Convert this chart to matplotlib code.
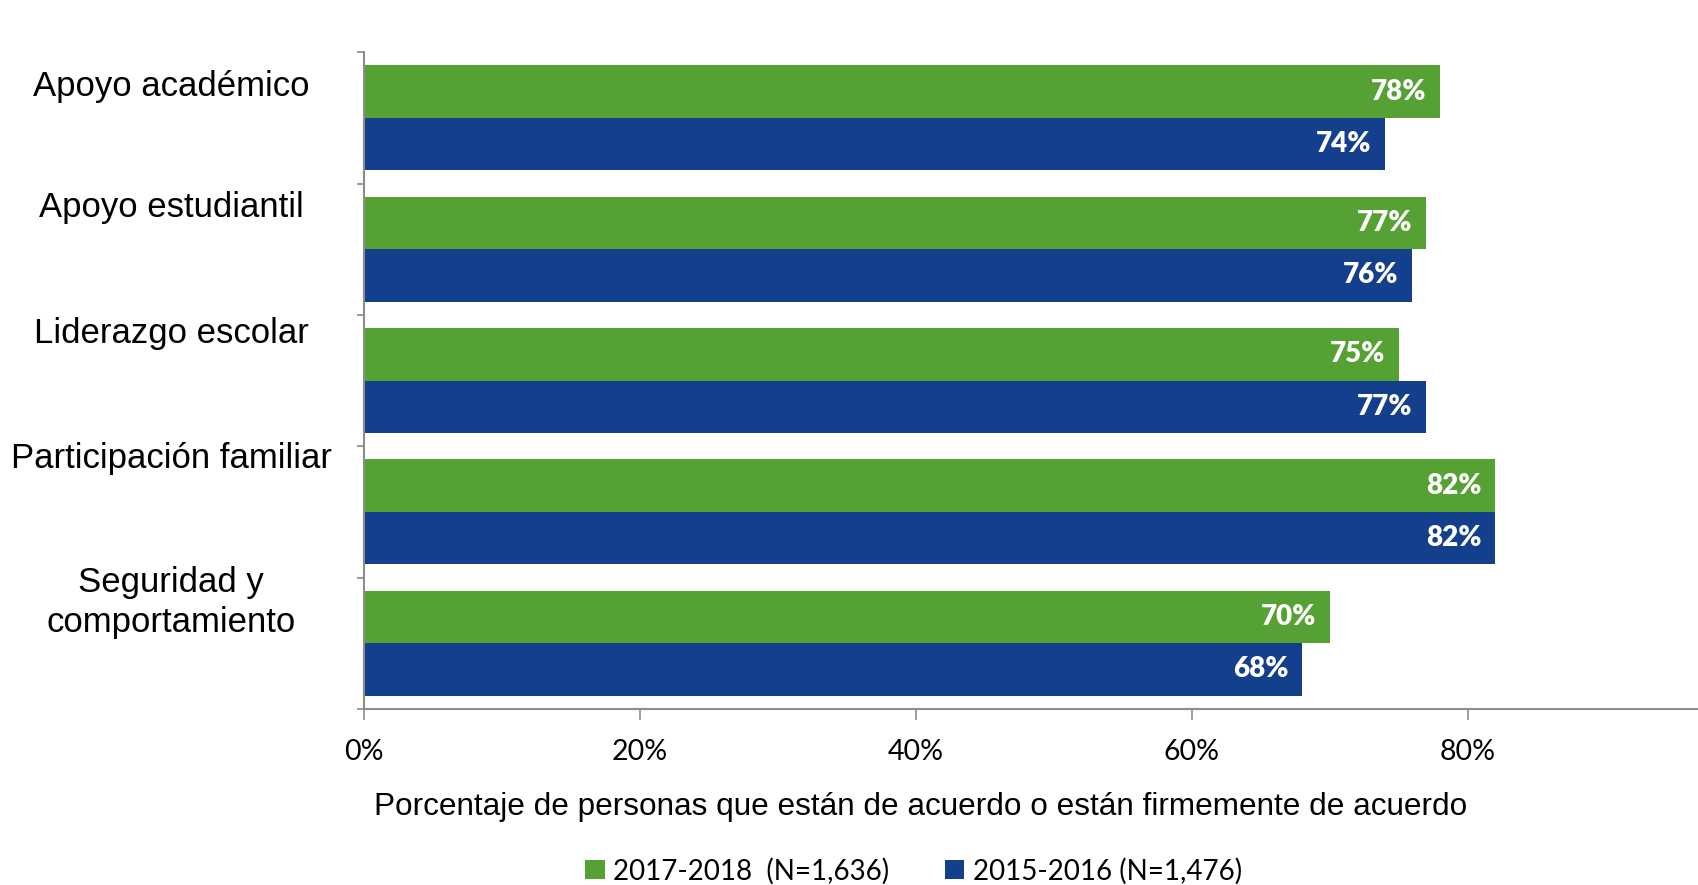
import matplotlib.pyplot as plt
import numpy as np

categories = ["Apoyo académico", "Apoyo estudiantil", "Liderazgo escolar",
              "Participación familiar", "Seguridad y\ncomportamiento"]
vals_2017 = [78, 77, 75, 82, 70]
vals_2015 = [74, 76, 77, 82, 68]
series_labels = ["2017-2018  (N=1,636)", "2015-2016 (N=1,476)"]
xticks = [0, 20, 40, 60, 80]

green = "#55a133"
blue = "#143f8c"
axis_gray = "#8c8c8c"

fig = plt.figure(figsize=(16.98, 8.85), dpi=100)
ax = fig.add_axes([0.2144, 0.199, 0.7856, 0.742])

pos = np.arange(len(categories))
h = 0.4
bars_g = ax.barh(pos - h / 2, vals_2017, h, color=green, label=series_labels[0])
bars_b = ax.barh(pos + h / 2, vals_2015, h, color=blue, label=series_labels[1])

# value labels inside the bar ends
for bars, vals in [(bars_g, vals_2017), (bars_b, vals_2015)]:
    for b, v in zip(bars, vals):
        ax.text(v - 1.0, b.get_y() + b.get_height() / 2, f"{v}%",
                ha="right", va="center", color="white", fontsize=20,
                fontweight="heavy", family="Lato")

ax.set_xlim(0, 96.7)
ax.set_ylim(len(categories) - 0.5, -0.5)

ax.set_xticks(xticks)
ax.set_xticklabels([f"{t}%" for t in xticks], fontsize=20.5, family="Lato")
ax.tick_params(axis="x", length=8, width=1.2, color=axis_gray, pad=14)
ax.set_yticks(np.arange(len(categories) + 1) - 0.5)
ax.set_yticklabels([])
ax.tick_params(axis="y", length=5, width=1.2, color=axis_gray)

for s in ["top", "right"]:
    ax.spines[s].set_visible(False)
for s in ["left", "bottom"]:
    ax.spines[s].set_color(axis_gray)
    ax.spines[s].set_linewidth(1.5)

# category labels sit somewhat above each group centre
label_offsets = [0.24, 0.32, 0.36, 0.41, 0.31]
for i, (c, off) in enumerate(zip(categories, label_offsets)):
    ax.text(-0.2144 / 0.7856 * 0.53, i - off, c, transform=ax.get_yaxis_transform(),
            ha="center", va="center", fontsize=25, family="Liberation Sans",
            linespacing=1.25)

fig.text(0.542, 0.088, "Porcentaje de personas que están de acuerdo o están firmemente de acuerdo",
         ha="center", va="center", fontsize=22.7, family="Liberation Sans")

fig.legend(loc="center", bbox_to_anchor=(0.538, 0.016), ncol=2, frameon=False,
           prop={"family": "Lato", "size": 20}, handlelength=0.7, handleheight=0.7,
           handletextpad=0.3, columnspacing=2.0)

fig.savefig("out.png", dpi=100)
